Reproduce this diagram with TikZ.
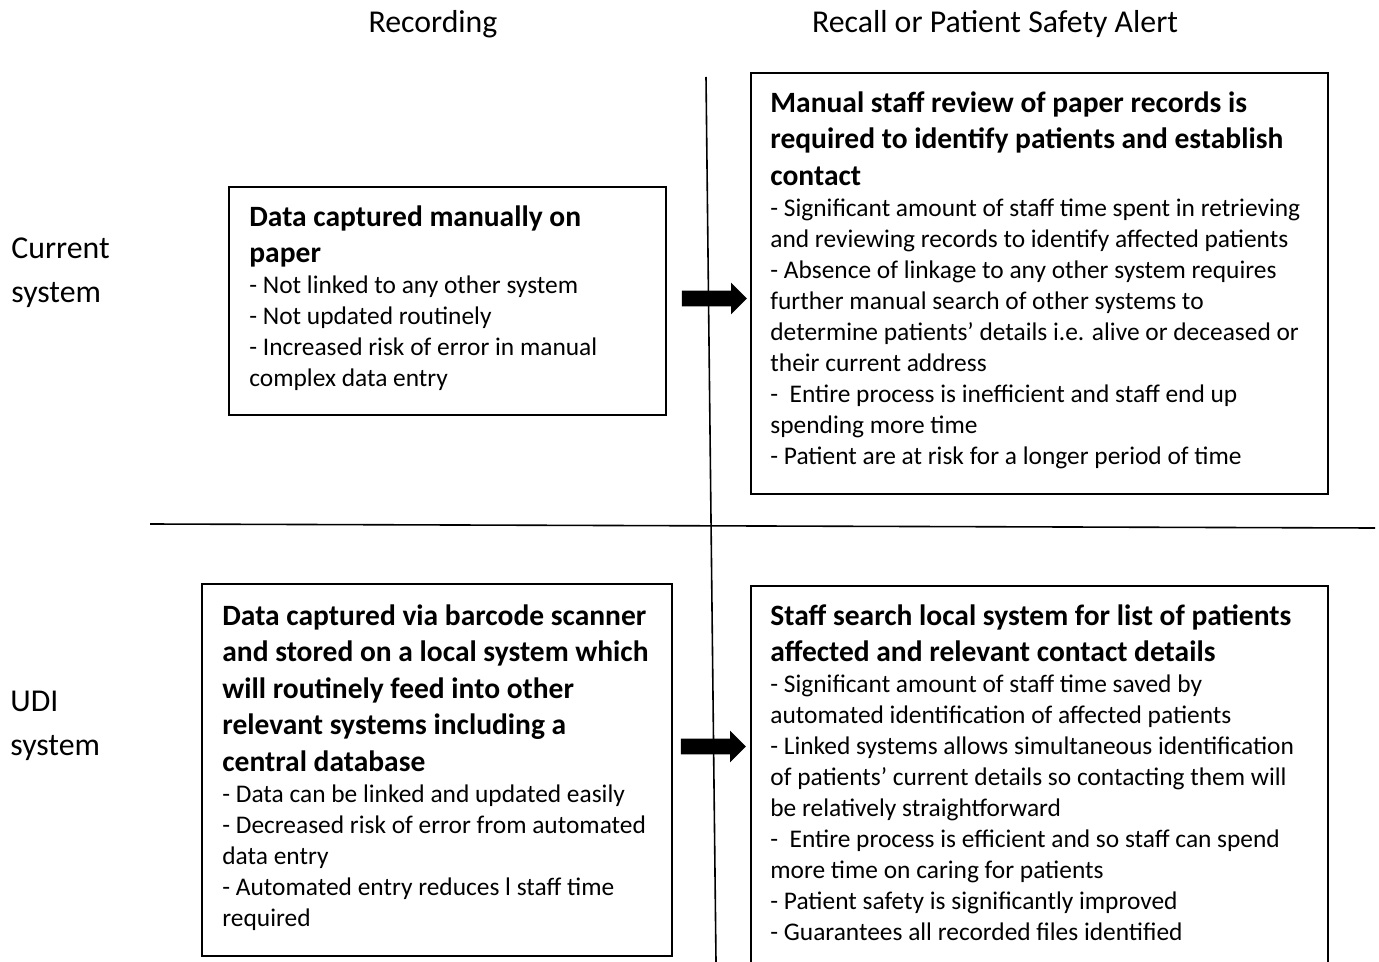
\documentclass[tikz,border=0pt]{standalone}
\usepackage{fontspec}
\setmainfont{Carlito}
\usetikzlibrary{shapes.arrows}

\newcommand{\headfont}{\fontsize{14.75}{18.25}\selectfont\bfseries}
\newcommand{\itemfont}{\fontsize{12.7}{15.5}\selectfont}
\newcommand{\labelfont}{\fontsize{15.9}{22}\selectfont}

\begin{document}
\begin{tikzpicture}[x=0.5pt,y=-0.5pt,
	frame/.style={draw, line width=1pt, anchor=north west, inner sep=0pt},
	boxtext/.style={anchor=north west, inner sep=0pt, align=flush left, font=\itemfont},
	blockarrow/.style={single arrow, fill=black, inner xsep=0pt, inner ysep=3.75pt,
		minimum width=15.5pt, single arrow head extend=4pt, minimum height=32.5pt},
	label/.style={font=\labelfont, inner sep=0pt},
	divider/.style={line width=0.8pt}]
	\useasboundingbox (0,0) rectangle (1379,962);
	\clip (0,0) rectangle (1379,962);
	% column and row headings
	\node[label] (rec) at (433,24) {Recording};
	\node[label] (alert) at (995,24) {Recall or Patient Safety Alert};
	\node[label, anchor=west, align=left] (cur) at (11,273) {Current\\system};
	\node[label, anchor=west, align=left] (udi) at (10,726) {UDI\\system};
	% dividers
	\draw[divider] (706,77) -- (716,962);
	\draw[divider] (150,524) -- (1375,528);
	% current system
	\node[frame, minimum width=218.5pt, minimum height=114pt] (cur1) at (228,186) {};
	\node[boxtext, text width=200pt] (curtxt1) at ([shift={(21,19)}]cur1.north west)
	{{\headfont Data captured manually on\\ paper\par}
		- Not linked to any other system\\
		- Not updated routinely\\
		- Increased risk of error in manual\\
		complex data entry};
	\node[frame, minimum width=288.5pt, minimum height=210.5pt] (cur2) at (750,72) {};
	\node[boxtext, text width=275pt] (curtxt2) at ([shift={(20,19)}]cur2.north west)
	{{\headfont Manual staff review of paper records is\\ required to identify patients and establish\\ contact\par}
		- Significant amount of staff time spent in retrieving\\
		and reviewing records to identify affected patients\\
		- Absence of linkage to any other system requires\\
		further manual search of other systems to\\
		determine patients’ details i.e. alive or deceased or\\
		their current address\\
		-\ \ Entire process is inefficient and staff end up\\
		spending more time\\
		- Patient are at risk for a longer period of time};
	\node[blockarrow] (arr1) at (710.5,298.5) {};
	% UDI system
	\node[frame, minimum width=235pt, minimum height=186pt] (udi1) at (201,583) {};
	\node[boxtext, text width=225pt] (uditxt1) at ([shift={(21,21)}]udi1.north west)
	{{\headfont Data captured via barcode scanner\\ and stored on a local system which\\ will routinely feed into other\\ relevant systems including a\\ central database\par}
		- Data can be linked and updated easily\\
		- Decreased risk of error from automated\\
		data entry\\
		- Automated entry reduces l staff time\\
		required};
	\node[frame, minimum width=288.5pt, minimum height=195pt] (udi2) at (750,585) {};
	\node[boxtext, text width=275pt] (uditxt2) at ([shift={(20,19)}]udi2.north west)
	{{\headfont Staff search local system for list of patients\\ affected and relevant contact details\par}
		- Significant amount of staff time saved by\\
		automated identification of affected patients\\
		- Linked systems allows simultaneous identification\\
		of patients’ current details so contacting them will\\
		be relatively straightforward\\
		-\ \ Entire process is efficient and so staff can spend\\
		more time on caring for patients\\
		- Patient safety is significantly improved\\
		- Guarantees all recorded files identified};
	\node[blockarrow] (arr2) at (709.5,746.5) {};
\end{tikzpicture}
\end{document}
